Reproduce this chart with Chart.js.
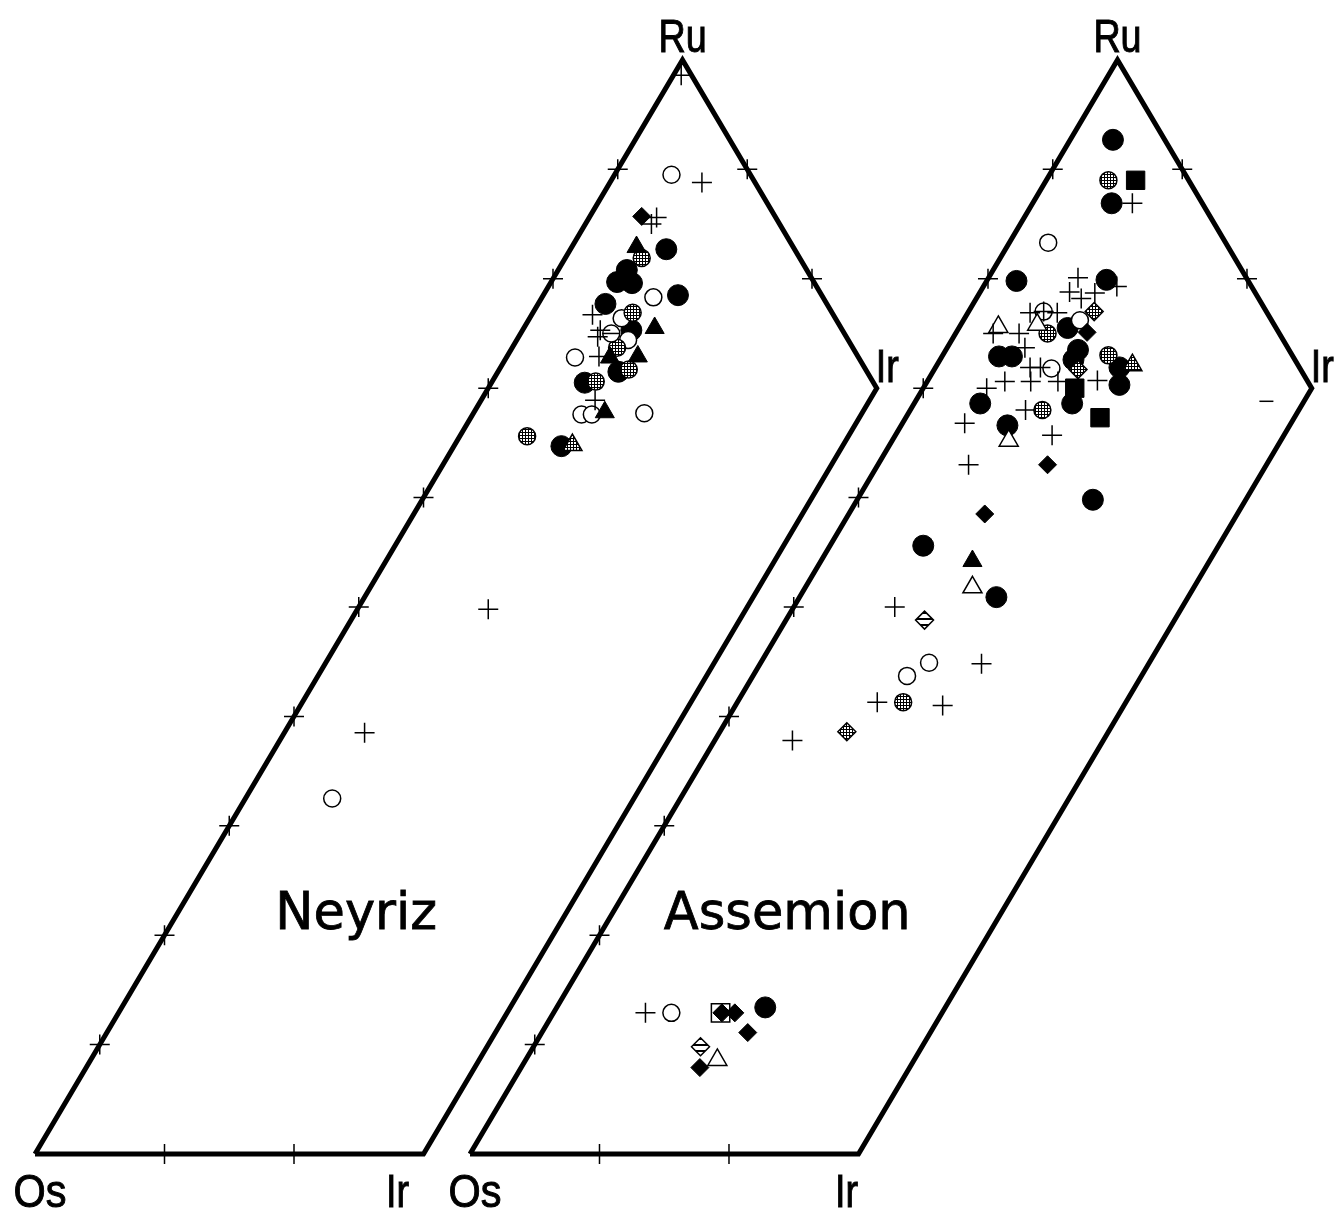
<!DOCTYPE html>
<html><head><meta charset="utf-8">
<script src="https://cdn.jsdelivr.net/npm/chart.js@4.4.0/dist/chart.umd.min.js"></script>
<style>html,body{margin:0;padding:0;background:#fff}#wrap{width:1341px;height:1209px;position:relative}</style>
</head><body><div id="wrap"><canvas id="c"></canvas></div>
<script>
// Ternary compositions, each point = [Ru %, Ir %]  (Os % = 100 - Ru - Ir)
const panelNames = ['Neyriz', 'Assemion'];
const apexLabels = ['Os', 'Ir', 'Ru'];
const gridTicks = [10, 20, 30, 40, 50, 60, 70, 80, 90];
const irLimit = 30;

// ---- Neyriz ----
const neyrizBlackCircle = [[82.7,7.4],[80.8,5.3],[79.7,5.1],[79.6,6.3],[78.5,10.4],[77.7,5.2],[75.3,8.4],[71.5,9.3],[70.5,7.2],[64.7,8.3]];
const neyrizOpenCircle = [[89.5,4.4],[78.3,8.6],[76.4,7.1],[74.4,8.6],[72.8,5.3],[67.6,8.4],[67.6,9.2],[67.7,13.2],[32.5,6.7]];
const neyrizGrayCircle = [[81.9,5.9],[76.9,7.7],[73.7,8.1],[71.7,10.0],[70.6,8.0],[65.6,5.2]];
const neyrizPlus = [[98.6,0.6],[88.8,7.1],[85.6,5.2],[85.0,5.1],[76.7,4.7],[75.3,6.0],[74.7,6.1],[72.9,7.1],[68.9,8.8],[49.8,10.1],[38.5,6.2]];
const neyrizBlackTriangle = [[82.9,5.0],[75.5,10.1],[72.8,8.0],[72.9,10.1],[67.8,10.1]];
const neyrizGrayTriangle = [[64.8,9.1]];
const neyrizBlackDiamond = [[85.7,4.0]];
const neyrizLinedCircle = [[75.0,7.0]];

// ---- Assemion ----
const assemionBlackCircle = [[92.7,3.3],[86.9,6.1],[79.8,2.3],[79.9,9.2],[75.5,8.4],[72.9,4.4],[72.9,5.4],[73.5,10.2],[72.6,10.3],[71.9,14.2],[70.3,15.0],[68.6,12.2],[68.6,5.1],[66.6,8.2],[59.8,18.2],[55.6,7.2],[50.9,15.2],[13.4,16.1]];
const assemionOpenCircle = [[83.3,3.0],[77.0,5.8],[76.2,9.0],[71.8,9.0],[44.9,13.0],[43.7,11.9],[12.9,9.1]];
const assemionGrayCircle = [[89.0,4.8],[75.0,7.1],[73.0,12.8],[68.0,10.2],[41.3,12.8]];
const assemionPlus = [[86.9,7.7],[80.1,6.9],[79.3,10.3],[78.8,6.9],[78.2,8.1],[78.7,8.9],[77.0,5.8],[76.9,4.8],[76.9,6.9],[75.0,4.9],[75.0,2.9],[73.7,6.0],[71.9,7.3],[71.9,8.1],[70.6,6.0],[70.6,8.0],[70.6,10.1],[70.7,13.1],[70.0,4.9],[68.0,8.9],[66.8,4.8],[65.7,12.1],[63.0,7.0],[50.0,7.8],[44.8,17.1],[41.3,10.8],[41.0,16.0],[37.8,6.0],[12.9,7.1]];
const assemionOpenTriangle = [[75.6,3.0],[75.8,5.9],[65.2,9.0],[51.8,12.9],[8.6,14.8]];
const assemionGrayTriangle = [[72.1,15.1]];
const assemionBlackTriangle = [[54.2,11.7]];
const assemionBlackDiamond = [[75.1,10.1],[63.0,13.1],[58.5,10.5],[12.9,13.0],[12.9,14.0],[11.1,15.9],[7.9,13.8]];
const assemionGrayDiamond = [[77.0,9.7],[71.7,11.1],[38.6,9.8]];
const assemionStripedDiamond = [[48.8,10.7],[9.8,12.9]];
const assemionBlackSquare = [[89.0,6.9],[70.0,11.7],[67.3,15.0]];
const assemionOpenSquare = [[12.9,12.9]];
const assemionDash = [[68.8,27.1]];

// ---- layout (not data) ----
const PANEL_SHIFT = 33.59;   // horizontal offset of second diagram, in ternary-x units
function toXY(panel, ru, ir) { return { x: panel * PANEL_SHIFT + ir + ru / 2, y: ru }; }
const nameAnchor = [[20.6, 14.5], [20.6, 14.2]]; // [Ru, Ir] position of panel names

const ctx0 = document.getElementById('c').getContext('2d');
function makeDots() {
  const c = document.createElement('canvas'); c.width = 3; c.height = 3;
  const g = c.getContext('2d'); g.fillStyle = '#000'; g.fillRect(0, 0, 3, 3);
  g.fillStyle = '#fff'; g.fillRect(1, 1, 2, 2);
  return ctx0.createPattern(c, 'repeat');
}
function makeStripes() {
  const c = document.createElement('canvas'); c.width = 4; c.height = 6;
  const g = c.getContext('2d'); g.fillStyle = '#fff'; g.fillRect(0, 0, 4, 6);
  g.fillStyle = '#000'; g.fillRect(0, 0, 4, 2);
  return ctx0.createPattern(c, 'repeat');
}
const DOTS = makeDots(), STRIPES = makeStripes();

const ST = {
  blackCircle: { pointStyle: 'circle', pointRadius: 10.5, pointBackgroundColor: '#000', pointBorderColor: '#000', pointBorderWidth: 1 },
  openCircle: { pointStyle: 'circle', pointRadius: 8.5, pointBackgroundColor: '#fff', pointBorderColor: '#000', pointBorderWidth: 1.5 },
  grayCircle: { pointStyle: 'circle', pointRadius: 8.5, pointBackgroundColor: DOTS, pointBorderColor: '#000', pointBorderWidth: 1.5 },
  plus: { pointStyle: 'cross', pointRadius: 10, pointBorderColor: '#000', pointBorderWidth: 1.5 },
  blackTriangle: { pointStyle: 'triangle', pointRadius: 11, pointBackgroundColor: '#000', pointBorderColor: '#000', pointBorderWidth: 1 },
  openTriangle: { pointStyle: 'triangle', pointRadius: 11, pointBackgroundColor: '#fff', pointBorderColor: '#000', pointBorderWidth: 1.5 },
  grayTriangle: { pointStyle: 'triangle', pointRadius: 11, pointBackgroundColor: DOTS, pointBorderColor: '#000', pointBorderWidth: 1.5 },
  blackDiamond: { pointStyle: 'rectRot', pointRadius: 9, pointBackgroundColor: '#000', pointBorderColor: '#000', pointBorderWidth: 1 },
  grayDiamond: { pointStyle: 'rectRot', pointRadius: 9, pointBackgroundColor: DOTS, pointBorderColor: '#000', pointBorderWidth: 1.5 },
  stripedDiamond: { pointStyle: 'rectRot', pointRadius: 9, pointBackgroundColor: STRIPES, pointBorderColor: '#000', pointBorderWidth: 1.5 },
  blackSquare: { pointStyle: 'rect', pointRadius: 13, pointBackgroundColor: '#000', pointBorderColor: '#000', pointBorderWidth: 1 },
  openSquare: { pointStyle: 'rect', pointRadius: 13, pointBackgroundColor: '#fff', pointBorderColor: '#000', pointBorderWidth: 1.5 },
  hline: { pointStyle: 'line', pointRadius: 8.5, pointBorderColor: '#000', pointBorderWidth: 1.5 },
  dash: { pointStyle: 'line', pointRadius: 7, pointBorderColor: '#000', pointBorderWidth: 1.5 },
  tick: { pointStyle: 'cross', pointRadius: 10, pointBorderColor: '#000', pointBorderWidth: 1.5 }
};

function series(arr, panel, style, order) {
  return Object.assign({ data: arr.map(p => toXY(panel, p[0], p[1])), showLine: false, clip: false, order: order || 0 }, style);
}
function outline(panel) {
  const pts = [[0, 0], [0, irLimit], [100 - irLimit, irLimit], [100, 0], [0, 0]];
  return { data: pts.map(p => toXY(panel, p[0], p[1])), showLine: true, borderColor: '#000', borderWidth: 5,
    pointRadius: 0, fill: false, tension: 0, borderJoinStyle: 'miter', clip: false, order: 10 };
}
function ticks(panel) {
  const pts = [];
  gridTicks.forEach(t => pts.push(toXY(panel, t, 0)));                          // Os–Ru edge
  gridTicks.filter(t => t < irLimit).forEach(t => pts.push(toXY(panel, 0, t)));   // Os–Ir edge
  gridTicks.filter(t => t < irLimit).forEach(t => pts.push(toXY(panel, 100 - t, t))); // Ru–Ir edge
  return Object.assign({ data: pts, showLine: false, clip: false, order: 9 }, ST.tick);
}

const datasets = [
  outline(0), outline(1), ticks(0), ticks(1),
  series(neyrizBlackCircle, 0, ST.blackCircle, 5),
  series(neyrizGrayCircle, 0, ST.grayCircle, 4),
  series(neyrizOpenCircle, 0, ST.openCircle, 4),
  series(neyrizLinedCircle, 0, ST.openCircle, 3),
  series(neyrizLinedCircle, 0, ST.hline, 2),
  series(neyrizBlackTriangle, 0, ST.blackTriangle, 3),
  series(neyrizGrayTriangle, 0, ST.grayTriangle, 3),
  series(neyrizBlackDiamond, 0, ST.blackDiamond, 3),
  series(neyrizPlus, 0, ST.plus, 1),
  series(assemionBlackCircle, 1, ST.blackCircle, 5),
  series(assemionGrayCircle, 1, ST.grayCircle, 4),
  series(assemionOpenCircle, 1, ST.openCircle, 4),
  series(assemionOpenSquare, 1, ST.openSquare, 4),
  series(assemionBlackSquare, 1, ST.blackSquare, 3),
  series(assemionBlackTriangle, 1, ST.blackTriangle, 3),
  series(assemionOpenTriangle, 1, ST.openTriangle, 3),
  series(assemionGrayTriangle, 1, ST.grayTriangle, 3),
  series(assemionBlackDiamond, 1, ST.blackDiamond, 2),
  series(assemionGrayDiamond, 1, ST.grayDiamond, 2),
  series(assemionStripedDiamond, 1, ST.stripedDiamond, 2),
  series(assemionDash, 1, ST.dash, 2),
  series(assemionPlus, 1, ST.plus, 1)
];

const labelPlugin = {
  id: 'ternaryLabels',
  afterDatasetsDraw(chart) {
    const { ctx, scales: { x, y } } = chart;
    const px = (panel, ru, ir) => { const p = toXY(panel, ru, ir); return [x.getPixelForValue(p.x), y.getPixelForValue(p.y)]; };
    ctx.save();
    ctx.fillStyle = '#000'; ctx.strokeStyle = '#000';
    const txt = (s, X, Y, align, font, sx, lw) => {
      ctx.save(); ctx.font = font; ctx.textAlign = align; ctx.textBaseline = 'alphabetic';
      ctx.translate(X, Y); ctx.scale(sx || 1, 1); ctx.fillText(s, 0, 0);
      if (lw) { ctx.lineWidth = lw; ctx.strokeText(s, 0, 0); }
      ctx.restore();
    };
    const small = '46px "Liberation Sans", Arial, sans-serif';
    const bottomY = chart.chartArea.bottom - 2;
    for (let p = 0; p < 2; p++) {
      const os = px(p, 0, 0), irB = px(p, 0, irLimit), irR = px(p, 100 - irLimit, irLimit), ru = px(p, 100, 0);
      txt(apexLabels[2], ru[0], ru[1] - 8, 'center', small, 0.82, 1);
      txt(apexLabels[1], irR[0] - 1, irR[1] - 6, 'left', small, 0.82, 1);
      txt(apexLabels[1], irB[0] - 26 + p * 14, bottomY, 'center', small, 0.82, 1);
      txt(apexLabels[0], os[0] + 5, bottomY, 'center', small, 0.9, 1);
      const c = px(p, nameAnchor[p][0], nameAnchor[p][1]);
      txt(panelNames[p], c[0], c[1], 'center', '51px "DejaVu Sans", sans-serif', 1, 0.8);
    }
    ctx.restore();
  }
};

new Chart(document.getElementById('c'), {
  type: 'scatter',
  data: { datasets },
  options: {
    responsive: true, maintainAspectRatio: false, animation: false, devicePixelRatio: 1,
    events: [],
    layout: { padding: 0, autoPadding: false },
    plugins: { legend: { display: false }, tooltip: { enabled: false } },
    scales: {
      x: { type: 'linear', min: -2.703, max: 100.85, display: false },
      y: { type: 'linear', min: -5.027, max: 105.48, display: false }
    }
  },
  plugins: [labelPlugin]
});
</script></body></html>
